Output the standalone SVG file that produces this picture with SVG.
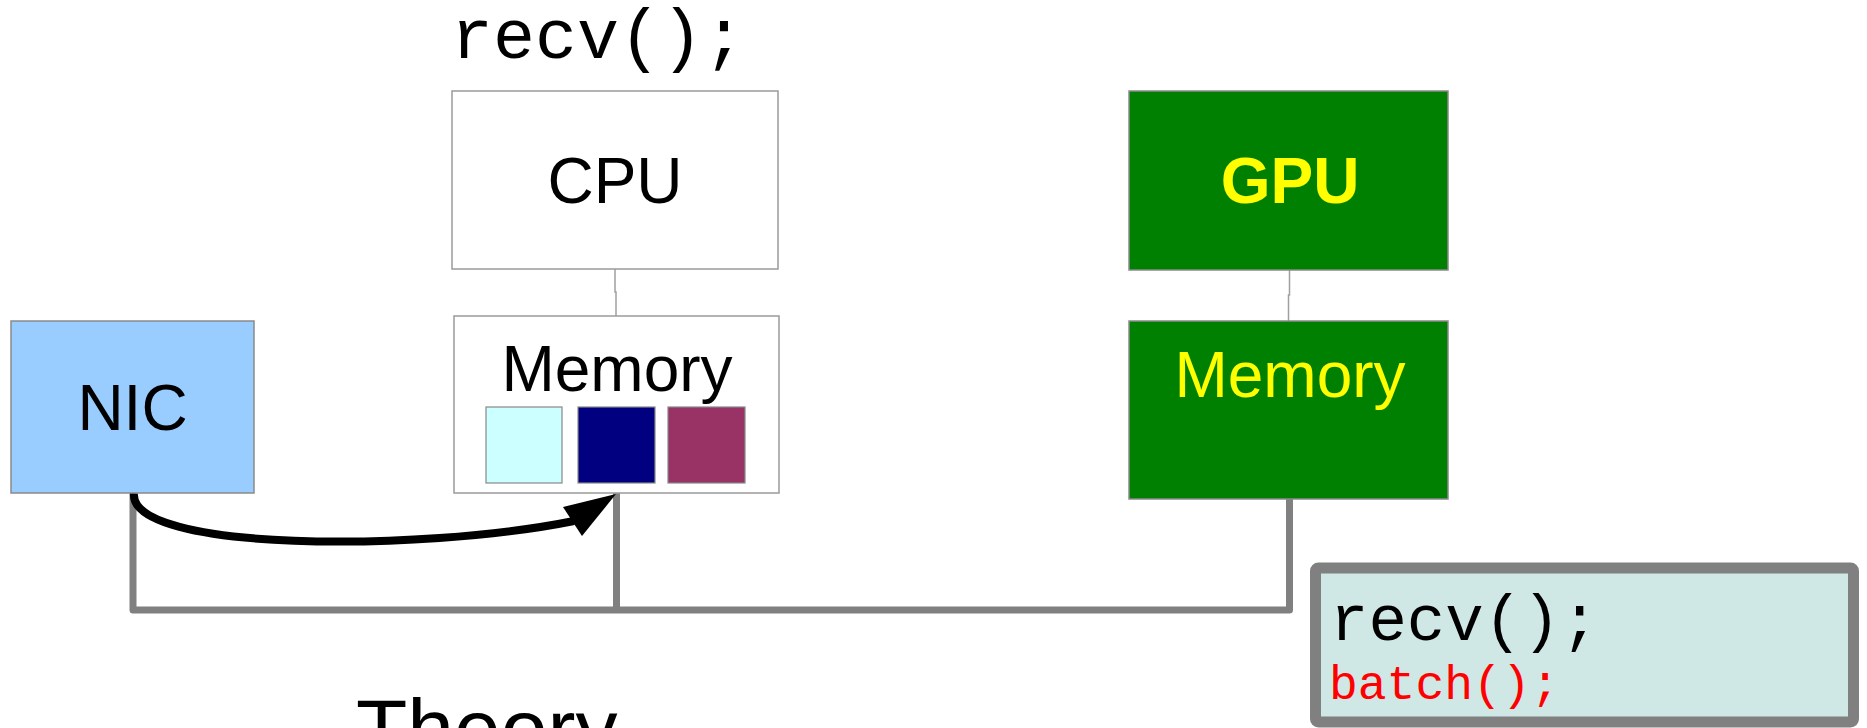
<svg xmlns="http://www.w3.org/2000/svg" width="1867" height="728" viewBox="0 0 1867 728">
<style>
.sans{font-family:"Liberation Sans",Arial,sans-serif}
.mono{font-family:"Liberation Mono","Courier New",monospace}
.box{stroke:#9a9a9a;stroke-width:1.5}
.thin{fill:none;stroke:#a0a0a0;stroke-width:1.5}
.bus{fill:none;stroke:#808080;stroke-width:7;stroke-linejoin:round;stroke-linecap:butt}
.sq{stroke:#888;stroke-width:1.2}
</style>
<rect width="1867" height="728" fill="#fff"/>
<text class="mono" x="451" y="58" font-size="70" fill="#000">recv();</text>
<g id="connectors">
<path class="thin" d="M615,269 V292 H616 V316"/>
<path class="thin" d="M1289.5,270 V295 H1288.5 V321"/>
<path class="bus" d="M133,493 V610 H1289.5 V499"/>
<path class="bus" d="M616.5,493 V610"/>
<path d="M134,493 C128,552 420,552 574,521" fill="none" stroke="#000" stroke-width="8"/>
<polygon points="616,494 563,507 582,536" fill="#000"/>
</g>
<g id="cpu">
<rect class="box" x="452" y="91" width="326" height="178" fill="#fff"/>
<text class="sans" x="615" y="203" font-size="64" text-anchor="middle">CPU</text>
</g>
<g id="cpu-memory">
<rect class="box" x="454" y="316" width="325" height="177" fill="#fff"/>
<text class="sans" x="617" y="391" font-size="64" text-anchor="middle">Memory</text>
<rect class="sq" x="486" y="407" width="76" height="76" fill="#ccffff"/>
<rect class="sq" x="578" y="407" width="77" height="76" fill="#000080"/>
<rect class="sq" x="668" y="407" width="77" height="76" fill="#993366"/>
</g>
<g id="nic">
<rect x="11" y="321" width="243" height="172" fill="#99ccff" stroke="#8a8a8a" stroke-width="1.5"/>
<text class="sans" x="132.5" y="430" font-size="64" text-anchor="middle">NIC</text>
</g>
<g id="gpu">
<rect x="1129" y="91" width="319" height="179" fill="#008000" stroke="#8a8a8a" stroke-width="1.5"/>
<text class="sans" x="1290" y="203" font-size="64" font-weight="bold" fill="#ffff00" text-anchor="middle">GPU</text>
</g>
<g id="gpu-memory">
<rect x="1129" y="321" width="319" height="178" fill="#008000" stroke="#8a8a8a" stroke-width="1.5"/>
<text class="sans" x="1290" y="397" font-size="64" fill="#ffff00" text-anchor="middle">Memory</text>
</g>
<g id="code-box">
<rect x="1315.5" y="568" width="538" height="154" rx="3" fill="#cfe7e5" stroke="#808080" stroke-width="11"/>
<text class="mono" x="1330" y="640" font-size="64" fill="#000">recv();</text>
<text class="mono" x="1329" y="699" font-size="48" fill="#ff0000">batch();</text>
</g>
<text class="sans" x="356" y="758" font-size="84" fill="#000">Theory</text>
</svg>
